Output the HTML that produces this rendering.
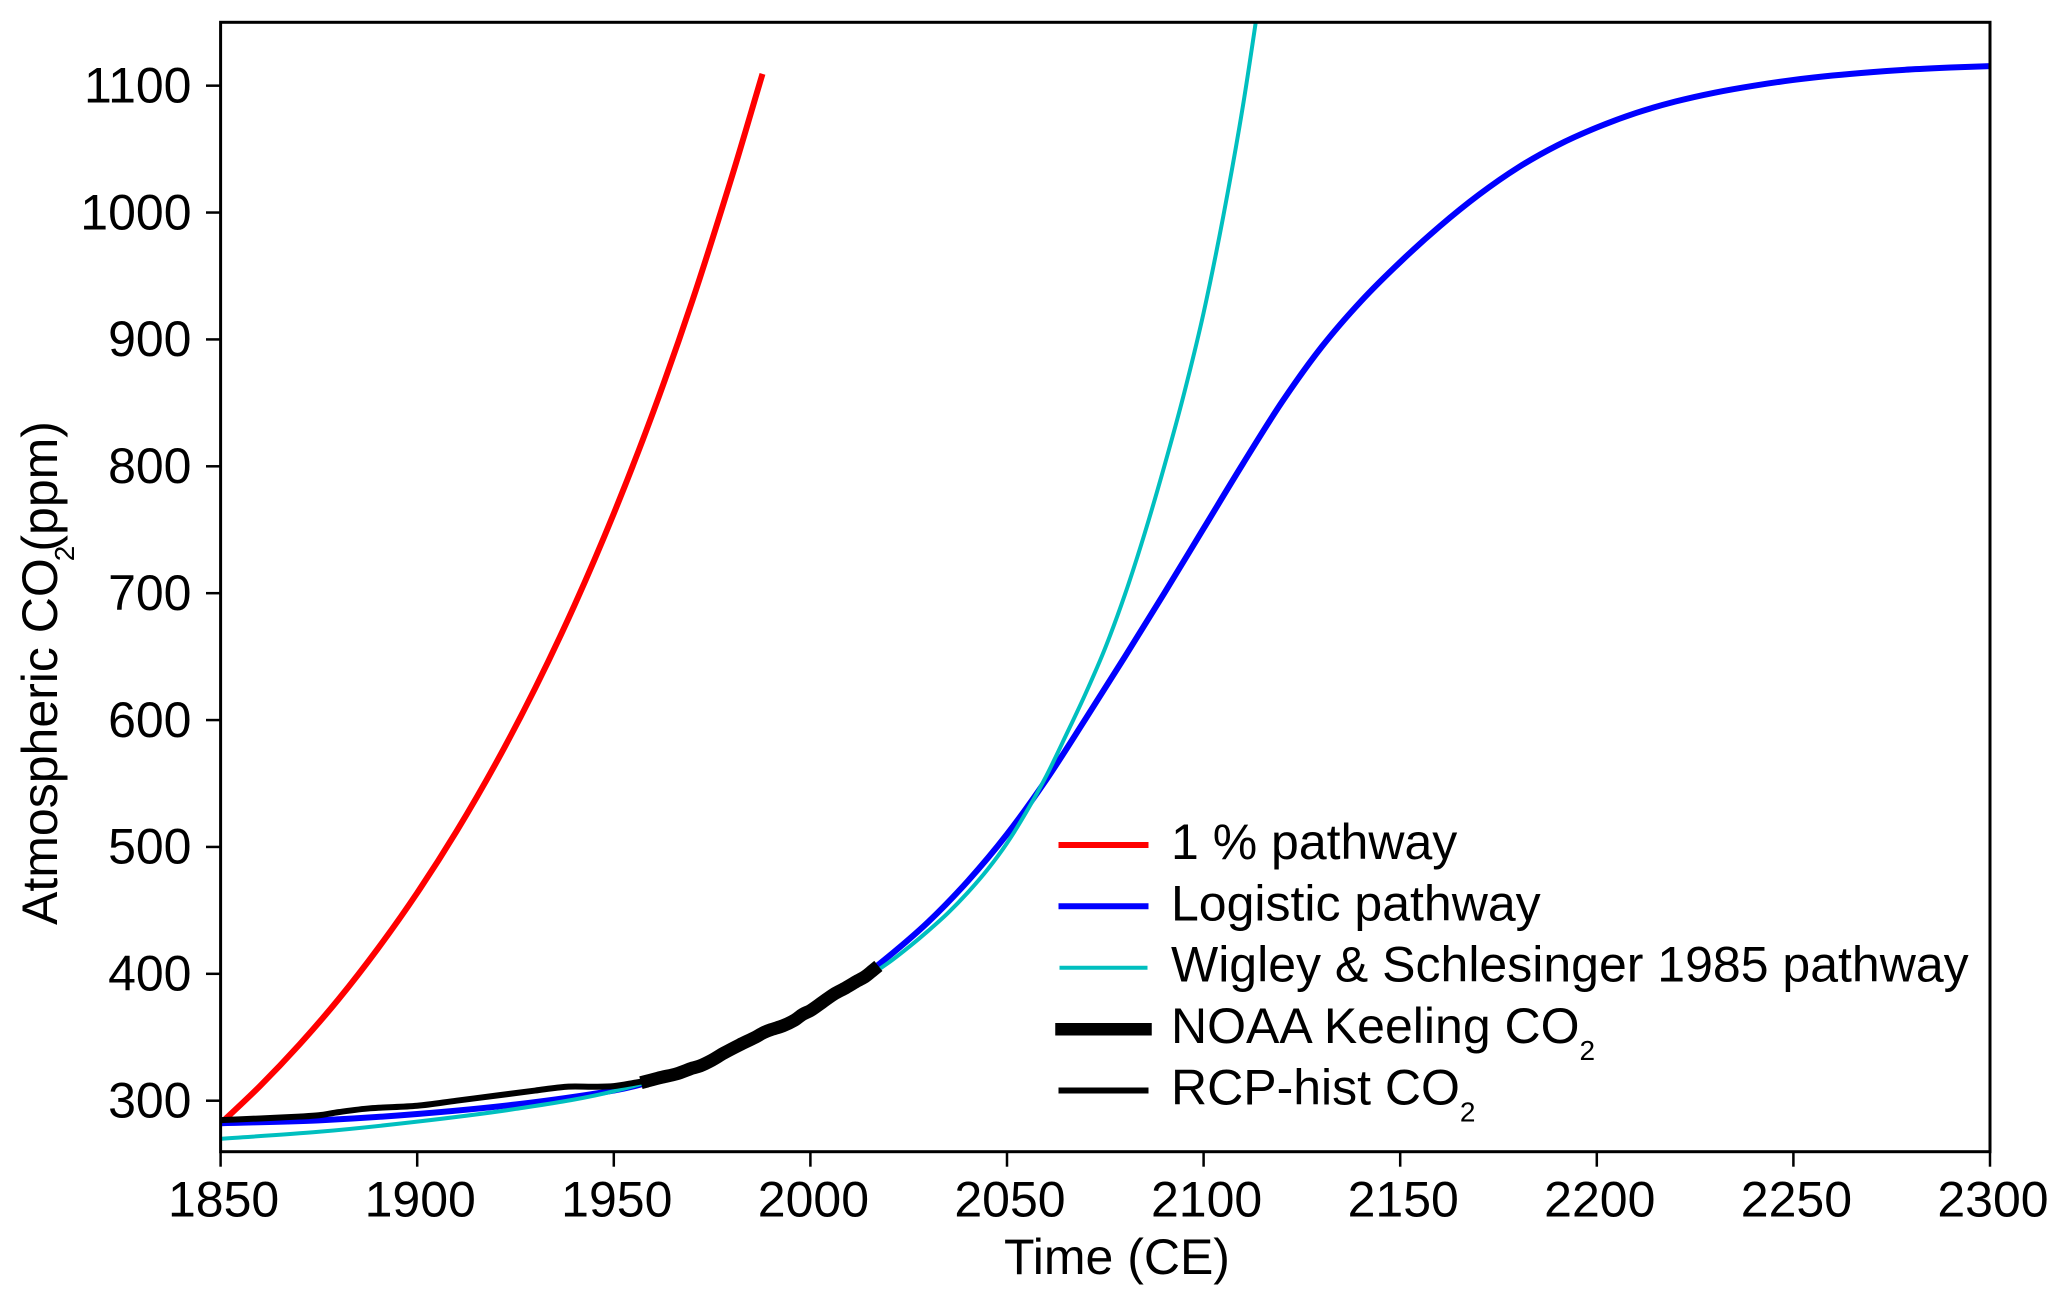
<!DOCTYPE html>
<html lang="en">
<head>
<meta charset="utf-8">
<title>Atmospheric CO2 pathways</title>
<style>
html,body{margin:0;padding:0;background:#fff;}
svg{display:block;}
text{font-family:"Liberation Sans",Arial,sans-serif;fill:#000;font-size:50px;}
</style>
</head>
<body>
<svg id="chart" xmlns="http://www.w3.org/2000/svg" width="2067" height="1304" viewBox="0 0 2067 1304">
  <rect x="0" y="0" width="2067" height="1304" fill="#fff"/>
  <defs>
    <clipPath id="plot-clip"><rect x="220.6" y="22.3" width="1769.4" height="1129.4"/></clipPath>
  </defs>
  <g id="series" clip-path="url(#plot-clip)"></g>
  <g id="axes"></g>
  <rect x="220.6" y="22.3" width="1769.4" height="1129.4" fill="none" stroke="#000" stroke-width="3"/>

  <text x="1117" y="1274" text-anchor="middle">Time (CE)</text>
  <text transform="translate(57,925) rotate(-90)">Atmospheric CO<tspan dx="-3" dy="17" style="font-size:28px">2</tspan><tspan dx="-6" dy="-17">(ppm)</tspan></text>

  <g>
    <line x1="1061.5" x2="1145.5" y1="845" y2="845" stroke="#ff0000" stroke-width="6" stroke-linecap="square"/>
    <text x="1171" y="859">1 % pathway</text>
    <line x1="1061.5" x2="1145.5" y1="906.3" y2="906.3" stroke="#0000ff" stroke-width="6" stroke-linecap="square"/>
    <text x="1171" y="920.7">Logistic pathway</text>
    <line x1="1061.5" x2="1145.5" y1="967.7" y2="967.7" stroke="#00bfbf" stroke-width="4" stroke-linecap="square"/>
    <text x="1171" y="981.7">Wigley &amp; Schlesinger 1985 pathway</text>
    <line x1="1061.5" x2="1145.5" y1="1029.3" y2="1029.3" stroke="#000" stroke-width="12.5" stroke-linecap="square"/>
    <text x="1171" y="1043">NOAA Keeling CO<tspan dy="17" style="font-size:28px">2</tspan></text>
    <line x1="1061.5" x2="1145.5" y1="1090.5" y2="1090.5" stroke="#000" stroke-width="6" stroke-linecap="square"/>
    <text x="1171" y="1104.3">RCP-hist CO<tspan dy="17" style="font-size:28px">2</tspan></text>
  </g>
</svg>
<script>
// Axis ticks
const xTickLabels = [1850, 1900, 1950, 2000, 2050, 2100, 2150, 2200, 2250, 2300];
const yTickLabels = [300, 400, 500, 600, 700, 800, 900, 1000, 1100];

// 1 % pathway
const onePercentYears = [1850, 1860, 1870, 1880, 1890, 1900, 1910, 1920, 1930, 1940, 1950, 1960, 1970, 1980, 1987.6];
const onePercentValues = [282, 311.5, 344.1, 380, 419.9, 463.8, 512.3, 565.9, 625.1, 690.5, 762.8, 842.6, 930.7, 1028, 1107];

// Logistic pathway
const logisticYears = [1850, 1875, 1900, 1925, 1950, 1960, 1975, 1990, 2000, 2010, 2020, 2030, 2040, 2050, 2060, 2070, 2080, 2090, 2100, 2110, 2120, 2130, 2140, 2150, 2160, 2170, 2180, 2190, 2200, 2210, 2220, 2230, 2240, 2250, 2260, 2270, 2280, 2290, 2300];
const logisticValues = [282.2, 284.5, 289.5, 297, 308, 315.5, 332, 354, 371, 390, 414, 441, 473, 510, 553, 601, 650, 700, 751, 802, 851, 894, 930, 961, 989, 1014, 1035.5, 1053, 1067, 1078.5, 1087.5, 1094.5, 1100, 1104.5, 1108, 1110.7, 1112.8, 1114.3, 1115.4];

// Wigley & Schlesinger 1985 pathway
const wigleyYears = [1850, 1875, 1900, 1925, 1950, 1975, 2000, 2010, 2020, 2025, 2030, 2035, 2040, 2045, 2050, 2055, 2060, 2065, 2070, 2075, 2080, 2085, 2090, 2095, 2100, 2105, 2110, 2115];
const wigleyValues = [270, 275.5, 283.5, 293.5, 307.5, 332, 369, 388, 409, 421, 434, 448, 464, 482, 503, 528, 556, 588, 621, 657, 699, 747, 800, 857, 921, 997, 1084, 1186];

// NOAA Keeling CO2
const noaaYears = [1958.5, 1962, 1966, 1970, 1972, 1975, 1978, 1982, 1986, 1988, 1990, 1993, 1996, 1998, 2000, 2003, 2006, 2009, 2012, 2014, 2016];
const noaaValues = [315.5, 318.3, 321.2, 325.7, 327.5, 332, 337.5, 344, 350, 353.5, 356, 359, 363.5, 368, 371, 377.5, 384, 389, 394.5, 398, 403];

// RCP-hist CO2
const rcpYears = [1850, 1860, 1870, 1875, 1880, 1888, 1900, 1910, 1920, 1930, 1938, 1945, 1950, 1955, 1960, 1970, 1980, 1990, 2000, 2005];
const rcpValues = [284.7, 286, 287.5, 288.5, 291, 294, 296, 300, 304, 308, 311, 311, 311.5, 314, 317, 325, 338, 354, 369, 379];

const SVG_NS = 'http://www.w3.org/2000/svg';
const seriesGroup = document.getElementById('series');
const axesGroup = document.getElementById('axes');

function xScale(year) {
  return 220.6 + (year - 1850) * 3.932;
}
function yScale(ppm) {
  return 1100.7 - (ppm - 300) * 1.2688;
}
function makeEl(tag, attrs) {
  const el = document.createElementNS(SVG_NS, tag);
  Object.keys(attrs).forEach(function (k) { el.setAttribute(k, attrs[k]); });
  return el;
}
function smoothPath(xs, ys) {
  const px = xs.map(xScale);
  const py = ys.map(yScale);
  const n = px.length;
  const slope = [];
  for (let i = 0; i < n; i++) {
    const a = Math.max(i - 1, 0);
    const b = Math.min(i + 1, n - 1);
    slope.push((py[b] - py[a]) / (px[b] - px[a]));
  }
  let d = 'M' + px[0].toFixed(2) + ' ' + py[0].toFixed(2);
  for (let i = 0; i < n - 1; i++) {
    const dx = (px[i + 1] - px[i]) / 3;
    d += ' C' + (px[i] + dx).toFixed(2) + ' ' + (py[i] + slope[i] * dx).toFixed(2) +
         ' ' + (px[i + 1] - dx).toFixed(2) + ' ' + (py[i + 1] - slope[i + 1] * dx).toFixed(2) +
         ' ' + px[i + 1].toFixed(2) + ' ' + py[i + 1].toFixed(2);
  }
  return d;
}
function drawSeries(name, xs, ys, color, width) {
  const el = makeEl('path', {
    d: smoothPath(xs, ys),
    fill: 'none',
    stroke: color,
    'stroke-width': width,
    'stroke-linecap': 'square',
    'stroke-linejoin': 'round'
  });
  
  
  seriesGroup.appendChild(el);
}

drawSeries('one-percent-pathway-line', onePercentYears, onePercentValues, '#ff0000', 6);
drawSeries('logistic-pathway-line', logisticYears, logisticValues, '#0000ff', 6);
drawSeries('wigley-schlesinger-pathway-line', wigleyYears, wigleyValues, '#00bfbf', 4);
drawSeries('rcp-hist-co2-line', rcpYears, rcpValues, '#000000', 6);
drawSeries('noaa-keeling-co2-line', noaaYears, noaaValues, '#000000', 13);

xTickLabels.forEach(function (year) {
  const x = xScale(year);
  const tick = makeEl('line', { x1: x, x2: x, y1: 1151.7, y2: 1166.7, stroke: '#000', 'stroke-width': 2.5 });
  
  
  axesGroup.appendChild(tick);
  const label = makeEl('text', { x: x + 3, y: 1216.7, 'text-anchor': 'middle' });
  
  
  label.textContent = String(year);
  axesGroup.appendChild(label);
});

yTickLabels.forEach(function (ppm) {
  const y = yScale(ppm);
  const tick = makeEl('line', { x1: 206, x2: 220.6, y1: y, y2: y, stroke: '#000', 'stroke-width': 2.5 });
  
  
  axesGroup.appendChild(tick);
  const label = makeEl('text', { x: 191.5, y: y + 16.8, 'text-anchor': 'end' });
  
  
  label.textContent = String(ppm);
  axesGroup.appendChild(label);
});
</script>
</body>
</html>
